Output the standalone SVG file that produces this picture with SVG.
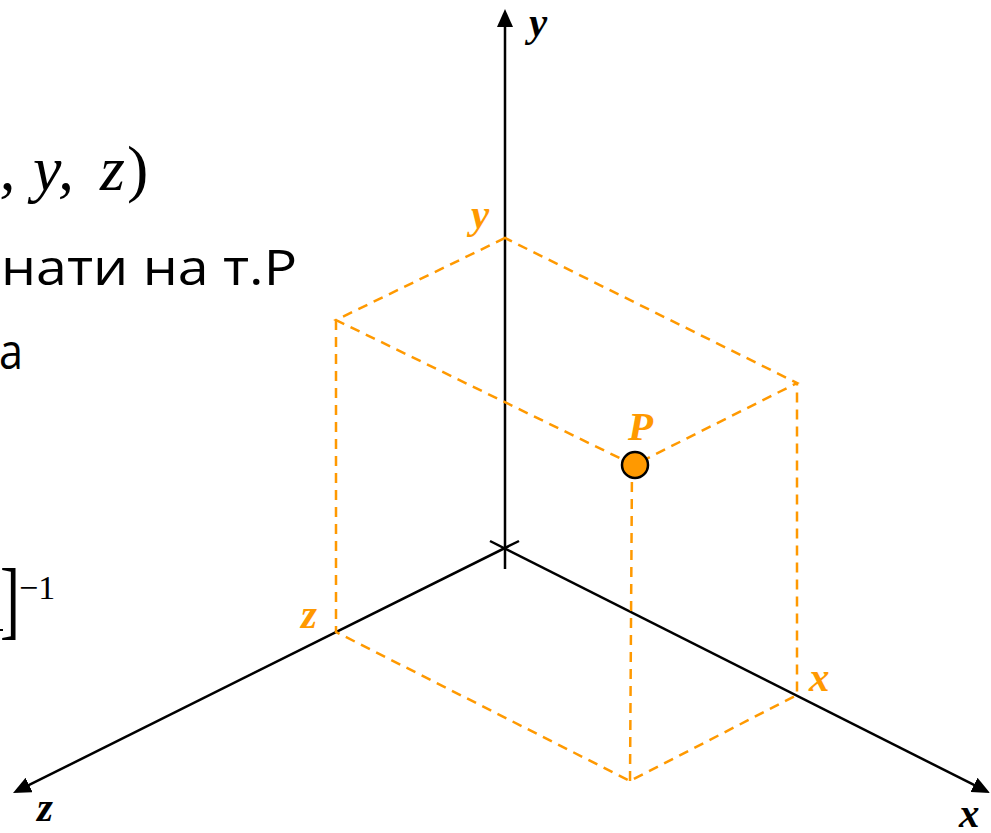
<svg xmlns="http://www.w3.org/2000/svg" width="991" height="833" viewBox="0 0 991 833">
<style>
.axis{stroke:#000;stroke-width:2.5;fill:none}
.dash{stroke:#FF9900;stroke-width:2.5;fill:none;stroke-dasharray:10 7}
.lab{font-family:"Liberation Serif","Times New Roman",serif;font-style:italic;font-weight:bold;font-size:41px}
.olab{fill:#FF9900}
.body{font-family:"Open Sans","Noto Sans",sans-serif;font-size:49px;fill:#000}
.math{font-family:"Liberation Serif","Times New Roman",serif;fill:#000}
</style>
<defs>
<marker id="arr" viewBox="0 0 18 16" refX="14" refY="8" markerWidth="18" markerHeight="16" markerUnits="userSpaceOnUse" orient="auto">
<path d="M0,0 L18,8 L0,16 z" fill="#000"/>
</marker>
</defs>
<g id="text-left">
<text class="math" font-size="64" y="190"><tspan x="-29" font-style="italic">x,</tspan><tspan x="33" font-style="italic">y,</tspan><tspan x="100" font-style="italic">z</tspan><tspan x="127">)</tspan></text>
<text class="body" x="1" y="285" textLength="296" lengthAdjust="spacingAndGlyphs">нати на т.Р</text>
<text class="body" x="-1" y="369" textLength="24" lengthAdjust="spacingAndGlyphs">а</text>
<rect x="0" y="629" width="3" height="2" fill="#000"/>
<text class="math" font-size="60" transform="translate(0,628) scale(1,1.45)" x="0" y="0">]</text>
<text class="math" font-size="34" x="19" y="599">−1</text>
</g>
<g id="connectors">
<line class="axis" x1="505" y1="569" x2="505" y2="13" marker-end="url(#arr)"/>
<line class="axis" x1="490" y1="541" x2="986.4" y2="791.2" marker-end="url(#arr)"/>
<line class="axis" x1="519" y1="541" x2="16.6" y2="791.2" marker-end="url(#arr)"/>
<path class="dash" d="M505,238 L336,320 L634,465 L797,383 Z"/>
<path class="dash" d="M336,320 L336,632 L630,781 L797,695 L797,383"/>
<path class="dash" d="M632,465 L630,781"/>
</g>
<g id="point-P">
<circle cx="635" cy="465" r="13" fill="#FF9900" stroke="#000" stroke-width="2.5"/>
<text class="lab olab" x="628" y="440" font-size="46">P</text>
</g>
<g id="labels">
<text class="lab" x="529" y="36">y</text>
<text class="lab" x="37" y="821">z</text>
<text class="lab" x="959" y="827">x</text>
<text class="lab olab" x="471" y="228">y</text>
<text class="lab olab" x="301" y="628">z</text>
<text class="lab olab" x="809" y="691">x</text>
</g>
</svg>
